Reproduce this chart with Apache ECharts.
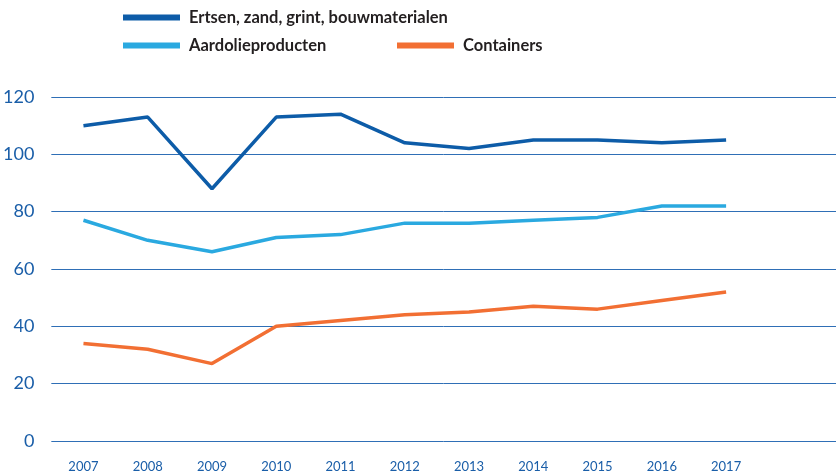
<!DOCTYPE html>
<html>
<head>
<meta charset="utf-8">
<script src="https://cdn.jsdelivr.net/npm/echarts@6/dist/echarts.min.js"></script>
<style>html,body{margin:0;padding:0;background:#fff}#c{width:836px;height:475px}</style>
</head>
<body>
<div id="c"></div>
<script>
const years = [2007, 2008, 2009, 2010, 2011, 2012, 2013, 2014, 2015, 2016, 2017];
const ertsen = [110, 113, 88, 113, 114, 104, 102, 105, 105, 104, 105];
const aardolie = [77, 70, 66, 71, 72, 76, 76, 77, 78, 82, 82];
const containers = [34, 32, 27, 40, 42, 44, 45, 47, 46, 49, 52];
const yTicks = [0, 20, 40, 60, 80, 100, 120];
const names = ['Ertsen, zand, grint, bouwmaterialen', 'Aardolieproducten', 'Containers'];
const colors = ['#0d5ca8', '#2aa9e0', '#f26f33'];

const pair = (vals) => vals.map((v, i) => [years[i], v]);
const chart = echarts.init(document.getElementById('c'));
const legendText = {fontFamily: 'Lato', fontWeight: 'bold', fontSize: 16.5, color: '#231f20', padding: [0,0,0,4]};
function leg(name, left, top) {
  return {show: true, data: [name], left: left, top: top, icon: 'rect', itemWidth: 57, itemHeight: 6,
    textStyle: legendText, padding: 0, selectedMode: false};
}
chart.setOption({
  animation: false,
  legend: [leg(names[0], 123, 9), leg(names[1], 123, 37), leg(names[2], 397, 37)],
  grid: {left: 51, right: 0, top: 97, bottom: 34},
  xAxis: {
    type: 'value', min: 2006.5, max: 2018.71,
    axisLine: {show: false}, axisTick: {show: false}, splitLine: {show: false},
    axisLabel: {customValues: years, color: '#1a5ea8', fontFamily: 'Lato', fontSize: 13, margin: 19,
      formatter: (v) => String(v)}
  },
  yAxis: {
    type: 'value', min: yTicks[0], max: yTicks[yTicks.length - 1], interval: 20,
    axisLine: {show: false}, axisTick: {show: false},
    axisLabel: {color: '#1a5ea8', fontFamily: 'Lato', fontSize: 18, margin: 17},
    splitLine: {lineStyle: {color: '#2f6fb6', width: 1}}
  },
  series: [
    {name: names[0], type: 'line', data: pair(ertsen), symbol: 'none', lineStyle: {width: 3.5, color: colors[0]}, itemStyle: {color: colors[0]}},
    {name: names[1], type: 'line', data: pair(aardolie), symbol: 'none', lineStyle: {width: 3.5, color: colors[1]}, itemStyle: {color: colors[1]}},
    {name: names[2], type: 'line', data: pair(containers), symbol: 'none', lineStyle: {width: 3.5, color: colors[2]}, itemStyle: {color: colors[2]}}
  ]
});
</script>
</body>
</html>
